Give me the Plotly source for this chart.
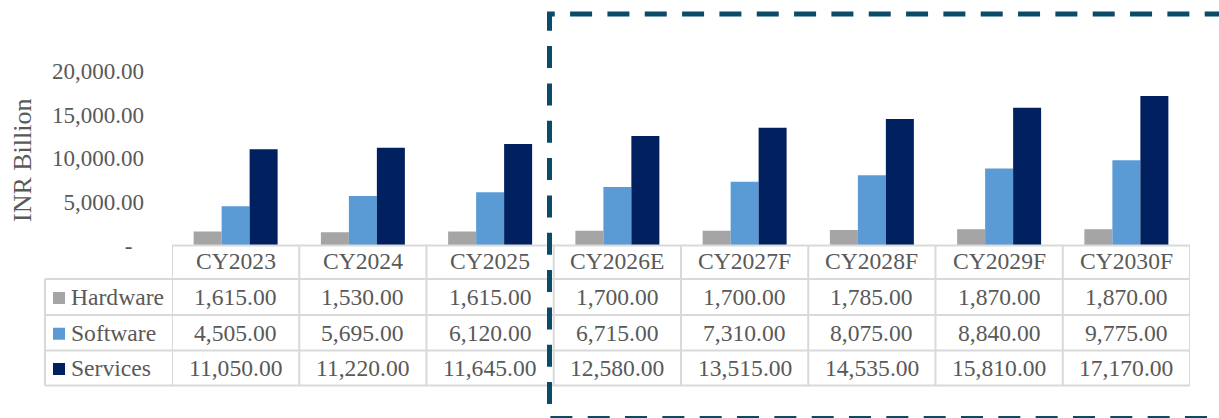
import plotly.graph_objects as go

# ---- data -------------------------------------------------------------
years = ["CY2023", "CY2024", "CY2025", "CY2026E", "CY2027F", "CY2028F", "CY2029F", "CY2030F"]
hardware = [1615, 1530, 1615, 1700, 1700, 1785, 1870, 1870]
software = [4505, 5695, 6120, 6715, 7310, 8075, 8840, 9775]
services = [11050, 11220, 11645, 12580, 13515, 14535, 15810, 17170]
y_ticks = [0, 5000, 10000, 15000, 20000]

series = [
    ("Hardware", hardware, "#A5A5A5"),
    ("Software", software, "#5B9BD5"),
    ("Services", services, "#002060"),
]

# ---- page geometry (pixels) -------------------------------------------
W, H = 1219, 418
FONT = "Liberation Serif, Times New Roman, serif"
TXT = "#595959"
GRID = "#D9D9D9"
TABLE_SIZE = 23.6

plot_left, plot_right = 172, 1190
plot_top, plot_bottom = 71.3, 245.5
row_lines = [245.5, 279, 315, 350.5, 385.5]  # table horizontal rules
legend_left = 45


def px(x):
    return x / W


def py(y):
    return 1 - y / H


def acct(v):
    return "-\u00a0\u00a0" if v == 0 else f"{v:,.2f}"


fig = go.Figure()
for name, vals, color in series:
    fig.add_trace(go.Bar(name=name, x=years, y=vals, marker=dict(color=color, line=dict(width=0))))

shapes = []
annotations = []

# header rule across the year columns
shapes.append(dict(type="line", xref="x", yref="paper", x0=-0.5, x1=len(years) - 0.5,
                   y0=py(row_lines[0]), y1=py(row_lines[0]), line=dict(color=GRID, width=2)))
# body rules across legend + year columns
for yl in row_lines[1:]:
    shapes.append(dict(type="line", xref="paper", yref="paper", x0=px(legend_left), x1=px(plot_right),
                       y0=py(yl), y1=py(yl), line=dict(color=GRID, width=2)))
# vertical rules between year columns
for i in range(len(years) + 1):
    shapes.append(dict(type="line", xref="x", yref="paper", x0=i - 0.5, x1=i - 0.5,
                       y0=py(row_lines[0]), y1=py(row_lines[-1]), line=dict(color=GRID, width=2)))
# left edge of legend column
shapes.append(dict(type="line", xref="paper", yref="paper", x0=px(legend_left), x1=px(legend_left),
                   y0=py(row_lines[1]), y1=py(row_lines[-1]), line=dict(color=GRID, width=2)))

# header labels
hdr_c = (row_lines[0] + row_lines[1]) / 2
for yr in years:
    annotations.append(dict(xref="x", yref="paper", x=yr, y=py(hdr_c - 1), text=yr, showarrow=False,
                            xanchor="center", yanchor="middle",
                            font=dict(family=FONT, size=TABLE_SIZE, color=TXT)))

# body rows: legend key, series name, values
for r, (name, vals, color) in enumerate(series):
    top, bot = row_lines[r + 1], row_lines[r + 2]
    c = (top + bot) / 2
    shapes.append(dict(type="rect", xref="paper", yref="paper", x0=px(53), x1=px(65),
                       y0=py(c - 5), y1=py(c + 7), fillcolor=color, line=dict(width=0)))
    annotations.append(dict(xref="paper", yref="paper", x=px(69), y=py(c), text=name, showarrow=False,
                            xanchor="left", yanchor="middle",
                            font=dict(family=FONT, size=TABLE_SIZE, color=TXT)))
    for yr, v in zip(years, vals):
        annotations.append(dict(xref="x", yref="paper", x=yr, y=py(c), text=f"{v:,.2f}", showarrow=False,
                                xanchor="center", yanchor="middle",
                                font=dict(family=FONT, size=TABLE_SIZE, color=TXT)))

# axis title
annotations.append(dict(xref="paper", yref="paper", x=px(22), y=py(160), text="INR Billion", textangle=-90,
                        showarrow=False, xanchor="center", yanchor="middle",
                        font=dict(family=FONT, size=26, color=TXT)))

# dashed frame around the estimate / forecast years
frame = (f"M {px(1226.7)},{py(14)} L {px(549.5)},{py(14)} "
         f"L {px(549.5)},{py(418.5)} L {px(1226)},{py(418.5)}")
shapes.append(dict(type="path", xref="paper", yref="paper", path=frame,
                   line=dict(color="#0A4B69", width=5, dash="22px,15.33px")))

fig.update_layout(
    width=W, height=H,
    margin=dict(l=0, r=0, t=0, b=0, pad=0, autoexpand=False),
    paper_bgcolor="white", plot_bgcolor="white",
    barmode="group", bargap=0.34, bargroupgap=0,
    showlegend=False,
    shapes=shapes, annotations=annotations,
    xaxis=dict(domain=[px(plot_left), px(plot_right)], range=[-0.5, len(years) - 0.5],
               showticklabels=False, showgrid=False, showline=False, zeroline=False, ticks="",
               automargin=False),
    yaxis=dict(domain=[py(plot_bottom), py(plot_top)], range=[0, 20000],
               tickvals=y_ticks, ticktext=[acct(v) for v in y_ticks],
               tickfont=dict(family=FONT, size=23, color=TXT),
               showgrid=False, showline=False, zeroline=False, ticks="", ticklabelstandoff=27,
               automargin=False),
)

fig.write_html("out.html")
